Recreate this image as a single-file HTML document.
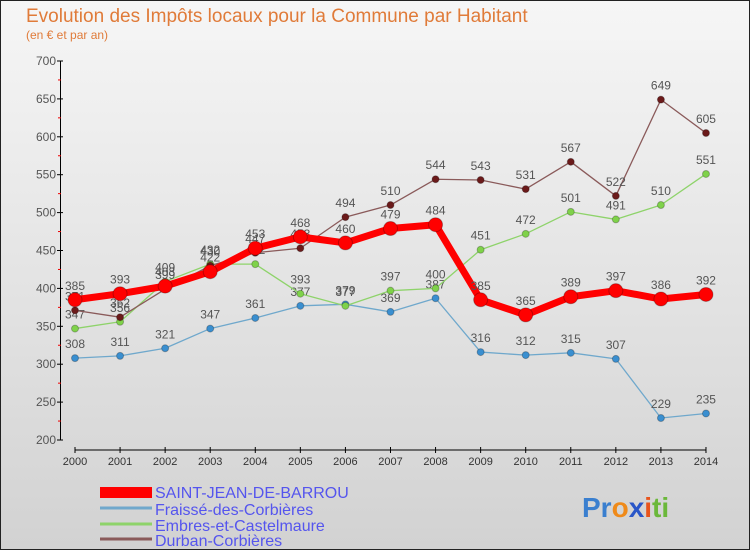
<!DOCTYPE html>
<html><head><meta charset="utf-8"><style>
html,body{margin:0;padding:0}
body{width:750px;height:550px;overflow:hidden;font-family:"Liberation Sans",sans-serif}
</style></head><body>
<svg id="chart" width="750" height="550" xmlns="http://www.w3.org/2000/svg" font-family="Liberation Sans, sans-serif">
<defs><linearGradient id="bg" x1="0" y1="0" x2="0" y2="1"><stop offset="0" stop-color="#f6f6f6"/><stop offset="1" stop-color="#d2d2d2"/></linearGradient></defs>
<rect x="0.5" y="0.5" width="749" height="549" fill="url(#bg)" stroke="#222"/>
<text x="26" y="22" font-size="19" fill="#e07b39">Evolution des Impôts locaux pour la Commune par Habitant</text>
<text x="26" y="39" font-size="12" fill="#e07b39">(en € et par an)</text>
<g id="axes"></g><g id="series"></g>
<g>
<rect x="100" y="487" width="52" height="11" fill="#f00"/>
<text x="155" y="498" font-size="16" fill="#5555ee">SAINT-JEAN-DE-BARROU</text>
<line x1="100" y1="508" x2="152" y2="508" stroke="#6fa8cc" stroke-width="3"/>
<text x="155" y="515" font-size="16" fill="#5555ee">Fraissé-des-Corbières</text>
<line x1="100" y1="524" x2="152" y2="524" stroke="#8ed36a" stroke-width="3"/>
<text x="155" y="531" font-size="16" fill="#5555ee">Embres-et-Castelmaure</text>
<line x1="100" y1="539" x2="152" y2="539" stroke="#8a5a5a" stroke-width="3"/>
<text x="155" y="546" font-size="16" fill="#5555ee">Durban-Corbières</text>
</g>
<g font-size="28" font-weight="bold">
<text x="582" y="517"><tspan fill="#3a7fcf">Pr</tspan><tspan fill="#ef8a1a">o</tspan><tspan fill="#2a56c8">x</tspan><tspan fill="#e8541c">i</tspan><tspan fill="#6bb83a">ti</tspan></text>
</g>
</svg>
<script>
const years=["2000","2001","2002","2003","2004","2005","2006","2007","2008","2009","2010","2011","2012","2013","2014"];
const yTicks=[200,250,300,350,400,450,500,550,600,650,700];
const sjb=[385,393,403,422,453,468,460,479,484,385,365,389,397,386,392];
const fraisse=[308,311,321,347,361,377,379,369,387,316,312,315,307,229,235];
const embres=[347,356,409,432,432,393,377,397,400,451,472,501,491,510,551];
const durban=[371,362,399,430,447,453,494,510,544,543,531,567,522,649,605];
const NS="http://www.w3.org/2000/svg";
const x=i=>75+i*45.07;
const y=v=>440-(v-200)*0.758;
function mk(tag,at,parent){const e=document.createElementNS(NS,tag);for(const k in at)e.setAttribute(k,at[k]);parent.appendChild(e);return e;}
const ax=document.getElementById('axes');
const yl=mk('line',{x1:60.5,y1:y(700),x2:60.5,y2:y(200),stroke:'#000'},ax);


const xl=mk('line',{x1:x(0),y1:450,x2:x(years.length-1),y2:450,stroke:'#000'},ax);


yTicks.forEach(v=>{
  mk('line',{x1:57,y1:y(v),x2:63,y2:y(v),stroke:'#000'},ax);
  if(v<700) mk('line',{x1:58,y1:y(v+25),x2:61,y2:y(v+25),stroke:'#e00'},ax);
  const t=mk('text',{x:56,y:y(v)+4,'font-size':12,fill:'#555','text-anchor':'end'},ax);
  t.textContent=v;
  
  
});
years.forEach((yr,i)=>{
  mk('line',{x1:x(i),y1:447,x2:x(i),y2:453,stroke:'#000'},ax);
  const t=mk('text',{x:x(i),y:465,'font-size':11,fill:'#333','text-anchor':'middle'},ax);
  t.textContent=yr;
  
  
});
const sg=document.getElementById('series');
function draw(vals,name,color,dot,lw,r){
  const g=mk('g',{},sg);
  
  
  mk('polyline',{points:vals.map((v,i)=>x(i)+','+y(v)).join(' '),fill:'none',stroke:color,'stroke-width':lw,'stroke-linejoin':'round'},g);
  vals.forEach((v,i)=>{
    const c=mk('circle',{cx:x(i),cy:y(v),r:r,fill:dot,stroke:'rgba(0,0,0,0.25)'},g);
    
    
    const t=mk('text',{x:x(i),y:y(v)-10,'font-size':12,fill:'#555','text-anchor':'middle'},g);
    t.textContent=v;
    
    
  });
}
draw(fraisse,'fraisse-series','#6fa8cc','#3a8fd0',1.3,3.5);
draw(embres,'embres-series','#8ed36a','#7fd24a',1.3,3.5);
draw(durban,'durban-series','#8a5a5a','#6b1a1a',1.3,3.5);
draw(sjb,'sjb-series','#f00','#f00',7,7);
</script>
</body></html>
